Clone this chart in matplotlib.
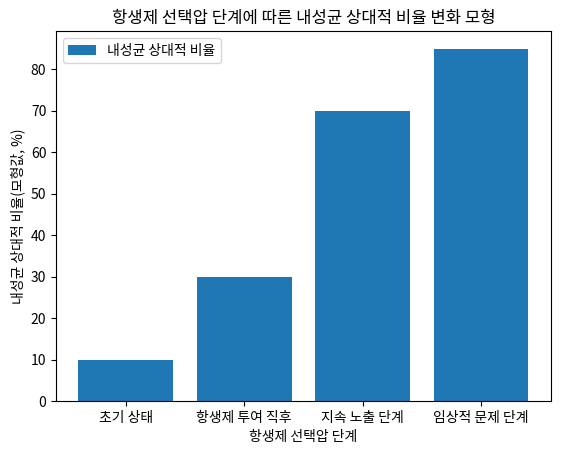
import matplotlib
matplotlib.use("Agg")
import matplotlib.pyplot as plt

plt.rcParams['font.family'] = ['Noto Sans CJK KR', 'DejaVu Sans']
plt.rcParams['axes.unicode_minus'] = False

stages = ["초기 상태", "항생제 투여 직후", "지속 노출 단계", "임상적 문제 단계"]
resistant_ratio = [10, 30, 70, 85]

fig = plt.figure(figsize=(5.61, 4.54), dpi=100)
ax = fig.add_axes([0.0998, 0.1167, 0.882, 0.815])

ax.bar(stages, resistant_ratio, label="내성균 상대적 비율")

ax.set_title("항생제 선택압 단계에 따른 내성균 상대적 비율 변화 모형")
ax.set_xlabel("항생제 선택압 단계")
ax.set_ylabel("내성균 상대적 비율(모형값, %)")
ax.legend(loc="upper left")

fig.savefig("out.png", dpi=100)
